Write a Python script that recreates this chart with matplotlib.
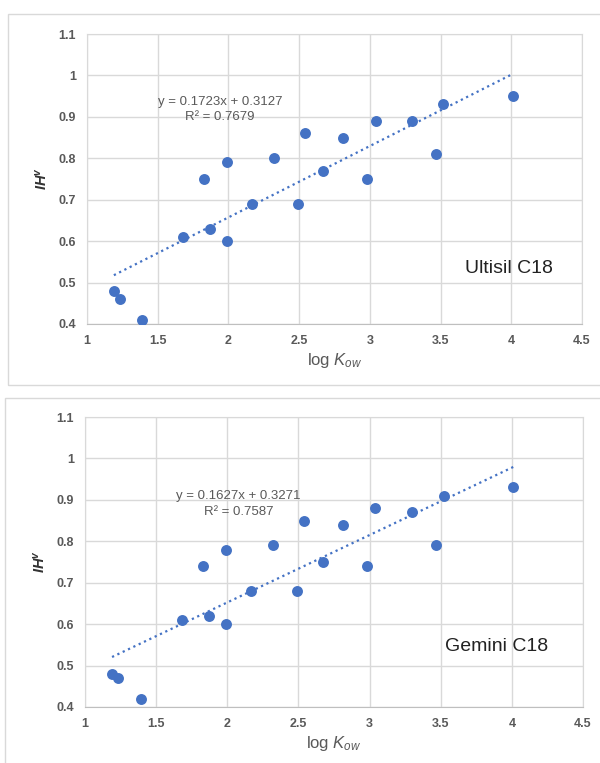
import matplotlib.pyplot as plt
from matplotlib.patches import Rectangle

plt.rcParams["font.family"] = ["Liberation Sans", "DejaVu Sans"]
plt.rcParams["mathtext.fontset"] = "custom"
plt.rcParams["mathtext.rm"] = "Liberation Sans"
plt.rcParams["mathtext.it"] = "Liberation Sans:italic"
plt.rcParams["mathtext.bf"] = "Liberation Sans:bold"
plt.rcParams["mathtext.bfit"] = "Liberation Sans:bold:italic"

log_kow = [1.19, 1.23, 1.39, 1.68, 1.83, 1.87, 1.99, 1.99, 2.17, 2.32,
           2.49, 2.54, 2.67, 2.81, 2.98, 3.04, 3.30, 3.47, 3.52, 4.01]
ih_ultisil = [0.48, 0.46, 0.41, 0.61, 0.75, 0.63, 0.79, 0.60, 0.69, 0.80,
              0.69, 0.86, 0.77, 0.85, 0.75, 0.89, 0.89, 0.81, 0.93, 0.95]
ih_gemini = [0.48, 0.47, 0.42, 0.61, 0.74, 0.62, 0.78, 0.60, 0.68, 0.79,
             0.68, 0.85, 0.75, 0.84, 0.74, 0.88, 0.87, 0.79, 0.91, 0.93]

fits = {
    "Ultisil C18": (0.1723, 0.3127, 0.7679),
    "Gemini C18": (0.1627, 0.3271, 0.7587),
}

x_ticks = [1, 1.5, 2, 2.5, 3, 3.5, 4, 4.5]
y_ticks = [0.4, 0.5, 0.6, 0.7, 0.8, 0.9, 1.0, 1.1]

BLUE = "#4472C4"
GREY_TEXT = "#595959"
GRID = "#D9D9D9"


def draw_panel(ax, values, name, eq_pos, label_pos):
    slope, intercept, r2 = fits[name]
    ax.set_xlim(1, 4.5)
    ax.set_ylim(0.4, 1.1)
    ax.set_xticks(x_ticks, labels=[f"{t:g}" for t in x_ticks])
    ax.set_yticks(y_ticks, labels=[f"{t:g}" for t in y_ticks])
    ax.grid(True, color=GRID, linewidth=1)
    ax.set_axisbelow(True)
    for side in ax.spines.values():
        side.set_color(GRID)
    ax.spines["bottom"].set_color("#BFBFBF")
    ax.tick_params(length=0, labelsize=9, labelcolor=GREY_TEXT, pad=8)
    for lab in ax.get_xticklabels() + ax.get_yticklabels():
        lab.set_fontweight("bold")

    xs = [min(log_kow), max(log_kow)]
    ax.plot(xs, [slope * x + intercept for x in xs], ":", color=BLUE, lw=1.6)
    ax.scatter(log_kow, values, s=62, color=BLUE, zorder=3, linewidths=0)

    ax.text(eq_pos[0], eq_pos[1], f"y = {slope:.4f}x + {intercept:.4f}\nR² = {r2:.4f}",
            ha="center", va="center", fontsize=9.5, color=GREY_TEXT, linespacing=1.35)
    ax.text(label_pos[0], label_pos[1], name, ha="left", va="center", fontsize=14, color="#222222")
    ax.set_xlabel(r"log $\mathit{K}_{\mathit{ow}}$", fontsize=12, color=GREY_TEXT, labelpad=3)
    ax.set_ylabel(r"$\mathbfit{IH}^{\mathbfit{v}}$", fontsize=10.5, color="#333333", labelpad=6)


fig = plt.figure(figsize=(6, 7.63), dpi=100)
fig.patches.append(Rectangle((8 / 600, 1 - 385 / 763), 600 / 600, 371 / 763,
                             transform=fig.transFigure, fill=False, edgecolor="#D9D9D9", lw=1))
fig.patches.append(Rectangle((5 / 600, 1 - 770 / 763), 600 / 600, 372 / 763,
                             transform=fig.transFigure, fill=False, edgecolor="#D9D9D9", lw=1))

ax_top = fig.add_axes([0.145, 0.5754, 0.825, 0.38])
draw_panel(ax_top, ih_ultisil, "Ultisil C18", (1.94, 0.917), (3.67, 0.535))

ax_bot = fig.add_axes([0.1417, 0.0734, 0.83, 0.38])
draw_panel(ax_bot, ih_gemini, "Gemini C18", (2.08, 0.89), (3.53, 0.545))

fig.savefig("out.png", dpi=100)
